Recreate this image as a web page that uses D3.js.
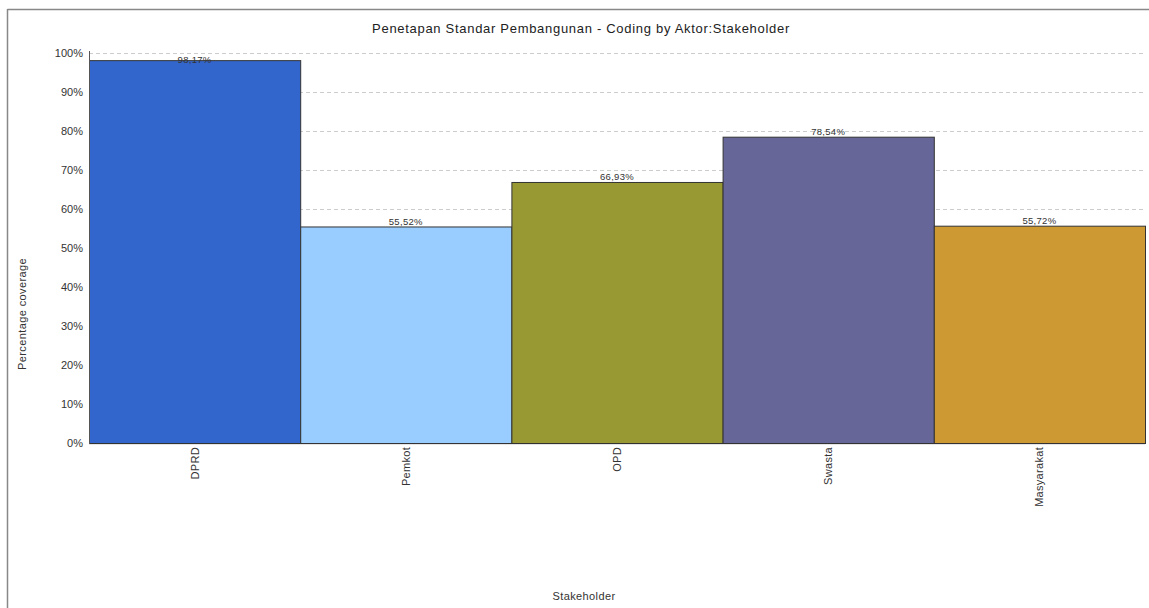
<!DOCTYPE html>
<html><head><meta charset="utf-8">
<script src="https://cdn.jsdelivr.net/npm/d3@7"></script>
<style>body{margin:0;background:#fff;} svg{display:block;font-family:"Liberation Sans",Arial,sans-serif;}</style>
</head><body>
<svg id="c" width="1149" height="608"></svg>
<script>
const categories = ["DPRD","Pemkot","OPD","Swasta","Masyarakat"];
const values = [98.17, 55.52, 66.93, 78.54, 55.72];
const colors = ["#3366cc","#99ccff","#999933","#666699","#cc9933"];
const yTicks = [0,10,20,30,40,50,60,70,80,90,100];
const title = "Penetapan Standar Pembangunan - Coding by Aktor:Stakeholder";

const svg = d3.select("#c");
const m = {l:89, r:1145, t:53, b:443};
// frame
svg.append("line").attr("x1",7.5).attr("x2",7.5).attr("y1",9).attr("y2",608).attr("stroke","#888").attr("stroke-width",1.5);
svg.append("line").attr("x1",7.5).attr("x2",1149).attr("y1",9.5).attr("y2",9.5).attr("stroke","#888").attr("stroke-width",1.5);

const x = d3.scaleBand().domain(categories).range([m.l,m.r]).padding(0);
const y = d3.scaleLinear().domain([0,100]).range([m.b,m.t]);

// grid
svg.append("g").selectAll("line").data(yTicks.filter(d=>d>0)).join("line")
  .attr("x1",m.l).attr("x2",m.r).attr("y1",d=>y(d)+0.5).attr("y2",d=>y(d)+0.5)
  .attr("stroke","#ccc").attr("stroke-dasharray","4,3");

// y tick labels
const yAxis = d3.axisLeft(y).tickValues(yTicks).tickFormat(d=>d+"%").tickSize(0).tickPadding(6);
const ga = svg.append("g").attr("transform",`translate(${m.l},0)`).call(yAxis);
ga.select(".domain").remove();
ga.selectAll("text").attr("font-size",11).attr("fill","#333").attr("font-family","Liberation Sans, Arial, sans-serif");

// x axis line
svg.append("line").attr("x1",m.l).attr("x2",m.r).attr("y1",m.b+1).attr("y2",m.b+1).attr("stroke","#ccc");

// bars
svg.append("g").selectAll("rect").data(categories).join("rect")
  .attr("x",d=>x(d)+0.5).attr("width",x.bandwidth())
  .attr("y",(d,i)=>y(values[i])+0.5).attr("height",(d,i)=>m.b-y(values[i]))
  .attr("fill",(d,i)=>colors[i]).attr("stroke","#333").attr("stroke-width",1);

// y axis line
svg.append("line").attr("x1",m.l+0.5).attr("x2",m.l+0.5).attr("y1",m.t-2).attr("y2",m.b+1).attr("stroke","#555");

// value labels
svg.append("g").selectAll("text").data(categories).join("text")
  .attr("x",d=>x(d)+x.bandwidth()/2).attr("y",(d,i)=>Math.max(y(values[i])-1.5, m.t+10))
  .attr("text-anchor","middle").attr("font-size",9.5).attr("letter-spacing",0.3).attr("fill","#333")
  .text((d,i)=>values[i].toFixed(2).replace(".",",")+"%");

// category labels
svg.append("g").selectAll("text").data(categories).join("text")
  .attr("transform",d=>`translate(${x(d)+x.bandwidth()/2+4},${m.b+4}) rotate(-90)`)
  .attr("text-anchor","end").attr("font-size",11).attr("letter-spacing",0.3).attr("fill","#333").text(d=>d);

// titles
svg.append("text").attr("x",581).attr("y",33).attr("text-anchor","middle").attr("font-size",13).attr("letter-spacing",0.7).attr("fill","#222").text(title);
svg.append("text").attr("transform","translate(26,314) rotate(-90)").attr("text-anchor","middle").attr("font-size",11).attr("letter-spacing",0.4).attr("fill","#333").text("Percentage coverage");
svg.append("text").attr("x",584).attr("y",600).attr("text-anchor","middle").attr("font-size",11).attr("letter-spacing",0.4).attr("fill","#333").text("Stakeholder");
</script>
</body></html>
